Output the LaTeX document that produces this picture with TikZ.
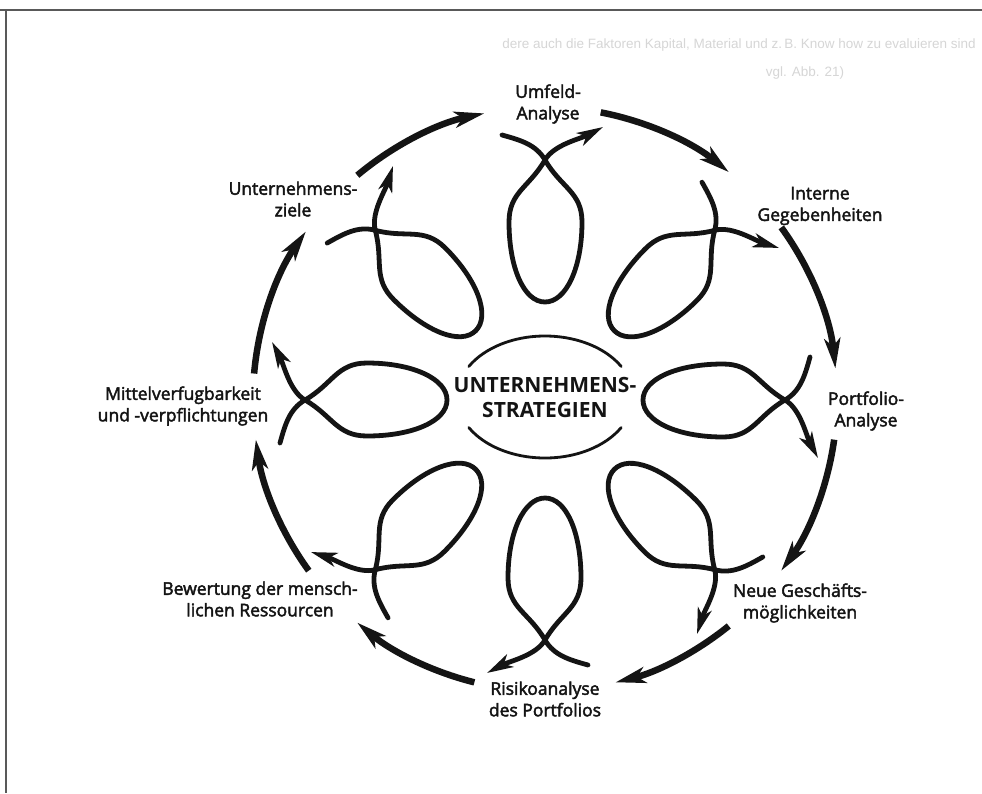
\documentclass[tikz,border=0pt]{standalone}
\usepackage{fontspec}
\setmainfont{Open Sans}
\newfontfamily\labfont{Open Sans}[FakeBold=2.5]
\newfontfamily\corefont{Open Sans Bold}
\newfontfamily\pagefont{Liberation Sans}
\usetikzlibrary{arrows.meta}

\begin{document}
\begin{tikzpicture}[x=1pt,y=1pt,
  ink/.style={draw=black!92, line cap=round},
  ring/.style={ink, line width=6.5pt, line cap=butt,
    -{Stealth[length=30pt,width=16pt,inset=8pt]}},
  swirl/.style={ink, line width=4.8pt,
    -{Stealth[length=26pt,width=14pt,inset=7pt]}},
  lbl/.style={font=\labfont\fontsize{17.5}{21.5}\selectfont, align=center,
    inner sep=0pt, text=black!92},
  core/.style={font=\corefont\fontsize{21}{25}\selectfont, align=center,
    inner sep=0pt, text=black!92},
  faint/.style={font=\pagefont\fontsize{13.5}{16}\selectfont, inner sep=0pt,
    text=black!16},
  frame/.style={draw=black!65, line width=2.5pt}]

\useasboundingbox (0,0) rectangle (982,-793);
\fill[white] (0,0) rectangle (982,-793);

% page frame
\draw[frame] (0,-10) -- (982,-10);
\draw[frame] (6,-10) -- (6,-793);

% running text of the page, barely visible
\node[faint, anchor=east] (txta) at (976,-45) {dere auch die Faktoren Kapital, Material und z.\,B. Know how zu evaluieren sind};
\node[faint] (txtb) at (805,-73) {vgl. Abb. 21)};

% labels round the cycle
\node[lbl] (umfeld) at (548,-104) {Umfeld-\\Analyse};
\node[lbl] (intern) at (820,-206) {Interne\\Gegebenheiten};
\node[lbl] (portf)  at (866,-411) {Portfolio-\\Analyse};
\node[lbl] (neue)   at (800,-603) {Neue Geschäfts-\\möglichkeiten};
\node[lbl] (risiko) at (545,-699) {Risikoanalyse\\des Portfolios};
\node[lbl] (bewert) at (260,-599) {Bewertung der mensch-\\lichen Ressourcen};
\node[lbl] (mittel) at (183,-406) {Mittelverfugbarkeit\\und -verpflichtungen};
\node[lbl] (ziele)  at (293,-199) {Unternehmens-\\ziele};

% centre
\node[core] (strat) at (545,-397) {UNTERNEHMENS-\\STRATEGIEN};

\begin{scope}[shift={(545,-397)}]
  \draw[ink, line width=2.8pt] (30:88 and 61) arc[start angle=30, end angle=150, x radius=88, y radius=61];
  \draw[ink, line width=2.8pt] (210:88 and 61) arc[start angle=210, end angle=330, x radius=88, y radius=61];
\end{scope}

% outer ring of arrows, clockwise
\begin{scope}[shift={(545,-399)}]
  \foreach \a/\b/\n in {130/102/1, 79/51/2, 36/6/3, -8/-36/4,
                        -51/-76/5, -104/-130/6, -144/-172/7, 175/145/8} {
    \coordinate (s\n) at (\a:292);
    \draw[ring] (s\n) arc[start angle=\a, end angle=\b, radius=292];
  }
\end{scope}

% the eight loops
\begin{scope}[shift={(545,-400)}]
  \foreach \p in {90,45,0,-45,-90,-135,180,135} {
    \begin{scope}[rotate=\p-90]
      \coordinate (tail) at (-43,265);
      \coordinate (cross) at (0,240);
      \coordinate (tip) at (58,273);
      \draw[swirl] (tail)
        .. controls (-25,260) and (-9,255.6) .. (cross)
        .. controls (16,212.3) and (37,208) .. (37,178)
        .. controls (37,132) and (21,98) .. (0,98)
        .. controls (-21,98) and (-36,132) .. (-36,178)
        .. controls (-36,208) and (-16,212.3) .. (cross)
        .. controls (9,255.6) and (36,261.3) .. (tip);
    \end{scope}
  }
\end{scope}

\end{tikzpicture}
\end{document}
